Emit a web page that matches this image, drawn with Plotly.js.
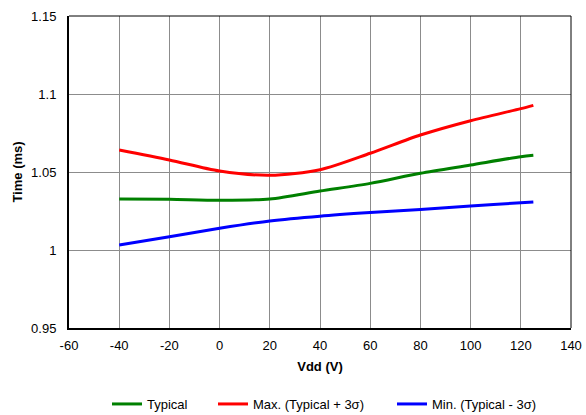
<!DOCTYPE html>
<html><head><meta charset="utf-8">
<script src="https://cdn.plot.ly/plotly-3.0.1.min.js"></script>
<style>html,body{margin:0;padding:0;background:#fff}#chart{width:586px;height:415px}</style>
</head><body><div id="chart"></div>
<script>
const vdd = [-40, -20, 0, 20, 40, 60, 80, 100, 120, 125];
const typical = [1.0327, 1.0325, 1.0319, 1.0327, 1.0378, 1.0427, 1.0492, 1.0545, 1.0598, 1.0607];
const maxVals = [1.0641, 1.0577, 1.0506, 1.0479, 1.0515, 1.0620, 1.0737, 1.0829, 1.0906, 1.0927];
const minVals = [1.0032, 1.0085, 1.0139, 1.0186, 1.0217, 1.0240, 1.0260, 1.0282, 1.0303, 1.0308];
const names = ['Typical', 'Max. (Typical + 3σ)', 'Min. (Typical - 3σ)'];
const colors = ['#008000', '#ff0000', '#0000ff'];
const xTicks = [-60, -40, -20, 0, 20, 40, 60, 80, 100, 120, 140];
const xTickText = ['-60', '-40', '-20', '0', '20', '40', '60', '80', '100', '120', '140'];
const yTicks = [0.95, 1, 1.05, 1.1, 1.15];
const yTickText = ['0.95', '1', '1.05', '1.1', '1.15'];

const series = [typical, maxVals, minVals];
const legendIds = ['legend', 'legend2', 'legend3'];
const data = series.map((s, i) => ({
  x: vdd, y: s, type: 'scatter', mode: 'lines', name: names[i], legend: legendIds[i],
  line: {color: colors[i], width: 3, shape: 'spline', smoothing: 0.8}
}));

const font = {family: 'Liberation Sans, Arial, sans-serif', size: 13, color: '#000'};
const legendX = [107, 213, 392];
function leg(x) {
  return {orientation: 'h', x: x / 586, xref: 'container', xanchor: 'left',
          y: 1 - 404 / 415, yref: 'container', yanchor: 'middle',
          itemwidth: 30, font: font, bgcolor: 'rgba(0,0,0,0)'};
}
const layout = {
  width: 586, height: 415,
  margin: {l: 69, r: 15, t: 16, b: 87},
  paper_bgcolor: '#fff', plot_bgcolor: '#fff',
  font: font,
  showlegend: true,
  legend: leg(legendX[0]), legend2: leg(legendX[1]), legend3: leg(legendX[2]),
  xaxis: {range: [-60, 140], tickvals: xTicks, ticktext: xTickText, ticks: '', showgrid: true,
          gridcolor: '#8c8c8c', gridwidth: 1, showline: true, linecolor: '#000', linewidth: 2,
          zeroline: false, ticklabelstandoff: 4,
          title: {text: '<b>Vdd (V)</b>', font: font, standoff: 10}},
  yaxis: {range: [0.95, 1.15], tickvals: yTicks, ticktext: yTickText, ticks: '', showgrid: true,
          gridcolor: '#8c8c8c', gridwidth: 1, showline: true, linecolor: '#000', linewidth: 2,
          zeroline: false, ticklabelstandoff: 8,
          title: {text: '<b>Time (ms)</b>', font: font, standoff: 6}},
  shapes: [
    {type: 'line', xref: 'paper', yref: 'paper', x0: 0, x1: 1, y0: 1, y1: 1, line: {color: '#000', width: 1}},
    {type: 'line', xref: 'paper', yref: 'paper', x0: 1, x1: 1, y0: 0, y1: 1, line: {color: '#000', width: 1}}
  ]
};
Plotly.newPlot('chart', data, layout, {displayModeBar: false, staticPlot: true});
</script></body></html>
